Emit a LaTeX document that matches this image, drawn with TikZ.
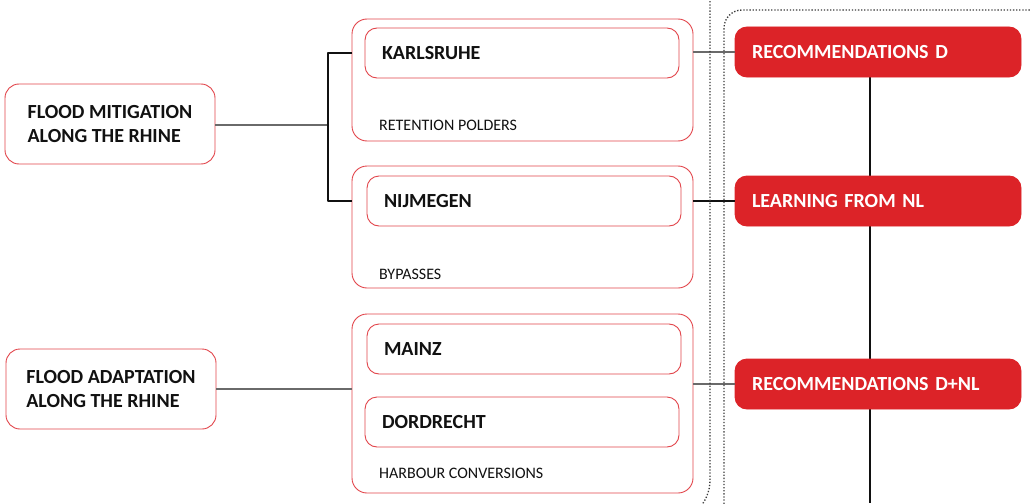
\documentclass[tikz,border=0pt]{standalone}
\usepackage{fontspec}
\setmainfont{Carlito}
\usepackage{xcolor}
\usepackage{tikz}
\usetikzlibrary{backgrounds,positioning}
\definecolor{rhRed}{HTML}{DC2328}
\definecolor{rhEdge}{HTML}{E2454B}
\definecolor{rhInk}{HTML}{111111}
\definecolor{rhGrey}{HTML}{6A6A6A}
\definecolor{rhDots}{HTML}{3A3A3A}
\tikzset{
  rh diagram/.style={x=1pt, y=-1pt, text=rhInk, line join=round},
  rh box/.style={draw=rhEdge, fill=white, line width=0.9pt,
    anchor=north west, outer sep=0pt, inner sep=0pt},
  rh topic/.style={rh box, rounded corners=14pt, minimum width=210pt,
    minimum height=80pt, align=left,
    font=\fontsize{20}{24}\selectfont\bfseries},
  rh group/.style={rh box, rounded corners=15pt, minimum width=341pt},
  rh city/.style={rh box, rounded corners=12pt, minimum width=314pt,
    minimum height=50pt, text width=280pt, align=left,
    font=\fontsize{20}{24}\selectfont\bfseries},
  rh caption/.style={anchor=base west, inner sep=0pt,
    font=\fontsize{16}{19}\selectfont},
  rh key/.style={rh box, draw=rhRed, fill=rhRed, text=white,
    rounded corners=12pt, minimum width=286pt, minimum height=50pt,
    text width=252pt, align=left,
    font=\fontsize{20}{24}\selectfont\bfseries},
  rh link/.style={draw=rhGrey, line width=1.6pt},
  rh bracket/.style={draw=rhInk, line width=1.1pt},
  rh dotted/.style={draw=rhDots, line width=1.3pt,
    dash pattern=on 1.3pt off 1.8pt}
}
\begin{document}
\begin{tikzpicture}[rh diagram]
\useasboundingbox (0,0) rectangle (1030,503);
\clip (0,0) rectangle (1030,503);
% topics
\node[rh topic] (mitigation) at (5,84) {FLOOD MITIGATION\\ALONG THE RHINE};
\node[rh topic] (adaptation) at (6,349) {FLOOD ADAPTATION\\ALONG THE RHINE};
% case study groups
\node[rh group, minimum height=122pt] (polder box) at (352,19) {};
\node[rh group, minimum height=122pt] (bypass box) at (352,166) {};
\node[rh group, minimum height=179pt] (harbour box) at (352,314) {};
\node[rh city] (karlsruhe) at (365,28) {KARLSRUHE};
\node[rh city] (nijmegen) at (367,176) {NIJMEGEN};
\node[rh city] (mainz) at (367,324) {MAINZ};
\node[rh city] (dordrecht) at (365,397) {DORDRECHT};
\node[rh caption] (polders) at (379,130) {RETENTION POLDERS};
\node[rh caption] (bypasses) at (379,279) {BYPASSES};
\node[rh caption] (harbours) at (379,478) {HARBOUR CONVERSIONS};
% outcomes
\node[rh key] (rec d) at (735,27) {RECOMMENDATIONS D};
\node[rh key] (learning) at (735,176) {LEARNING FROM NL};
\node[rh key] (rec dnl) at (735,359) {RECOMMENDATIONS D+NL};
\coordinate (mit joint) at (328,125);
\coordinate (spine end) at (870,503);
% connectors
\draw[rh link] (mitigation.east |- mit joint) -- (mit joint);
\draw[rh bracket] (polder box.west |- karlsruhe) -| (mit joint)
  |- (bypass box.west |- nijmegen);
\draw[rh link] (adaptation) -- (harbour box.west |- adaptation);
\draw[rh link] (polder box.east |- rec d) -- (rec d.west);
\draw[rh bracket] (bypass box.east |- learning) -- (learning.west);
\draw[rh link] (harbour box.east |- rec dnl) -- (rec dnl.west);
\begin{scope}[on background layer]
\draw[rh bracket] (rec d.south -| spine end) -- (spine end);
\end{scope}
% frames
\draw[rh dotted, rounded corners=42pt] (710,-5) -- (710,522) -- (640,522);
\draw[rh dotted, rounded corners=18pt] (724,510) -- (724,10) -- (1040,10);
\end{tikzpicture}
\end{document}
